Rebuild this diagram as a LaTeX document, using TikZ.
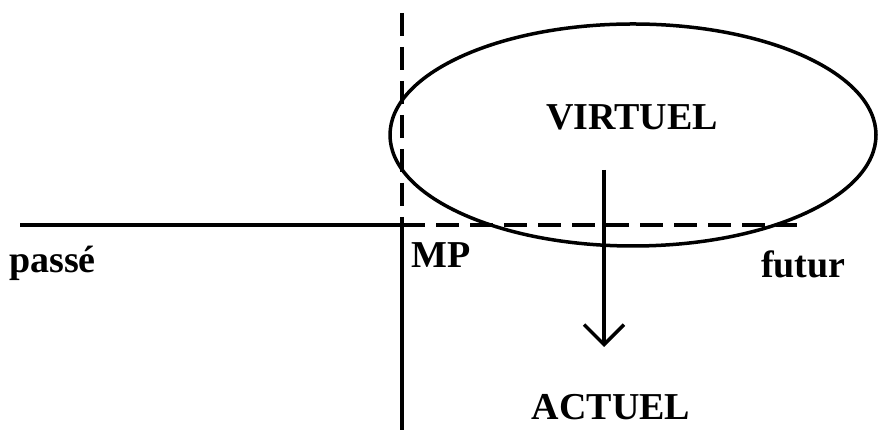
\documentclass[tikz,border=0pt]{standalone}
\usepackage{fontspec}
\setmainfont{Liberation Serif}
\usetikzlibrary{arrows.meta}
\begin{document}
\begin{tikzpicture}[x=1pt,y=1pt,
  axis/.style={line width=3.5pt},
  dashaxis/.style={line width=3.5pt, dash pattern=on 23pt off 11pt},
  lbl/.style={font=\fontsize{38}{42}\selectfont\bfseries, inner sep=0pt}]
\useasboundingbox (0,0) rectangle (878,430);
% coordinates
\coordinate (hl) at (20,205);
\coordinate (o) at (402,205);
\coordinate (hr) at (797,205);
\coordinate (vt) at (402,417);
\coordinate (vb) at (402,0);
% axes
\draw[axis] (hl) -- (o);
\draw[dashaxis] (o) -- (hr);
\draw[dashaxis] (vt) -- (o);
\draw[axis] (o) -- (vb);
% ellipse
\draw[line width=3.5pt] (633,295) ellipse [x radius=243, y radius=111];
% labels
\node[lbl] (virtuel) at (632,313) {VIRTUEL};
\node[lbl] (actuel) at (611,23) {ACTUEL};
\node[lbl] (mp) at (441,175) {MP};
\node[lbl, anchor=base west] (passe) at (9,157) {passé};
\node[lbl, anchor=base west] (futur) at (761,152) {futur};
% arrow
\coordinate (as) at (604,260);
\coordinate (ae) at (604,83);
\draw[line width=3.5pt, -{Straight Barb[length=20pt, width=40pt, line width=3.5pt]}] (as) -- (ae);
\end{tikzpicture}
\end{document}
